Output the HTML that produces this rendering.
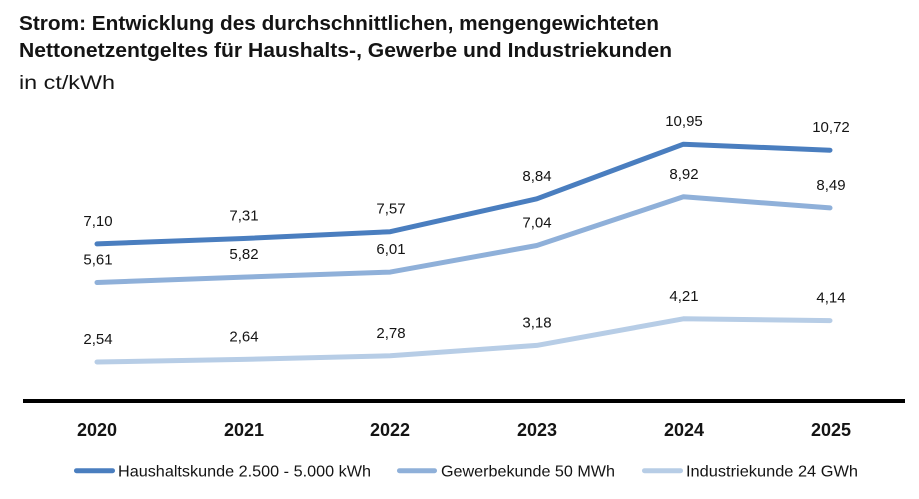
<!DOCTYPE html>
<html>
<head>
<meta charset="utf-8">
<style>
  html,body{margin:0;padding:0;background:#fff;}
  svg{display:block;}
  text{font-family:"Liberation Sans", sans-serif;fill:#141414;}
</style>
</head>
<body>
<svg width="919" height="499" viewBox="0 0 919 499" xmlns="http://www.w3.org/2000/svg">
  <!-- Title -->
  <text x="19" y="30" font-size="20" font-weight="bold" textLength="640" lengthAdjust="spacingAndGlyphs">Strom: Entwicklung des durchschnittlichen, mengengewichteten</text>
  <text x="19" y="57" font-size="20" font-weight="bold" textLength="653" lengthAdjust="spacingAndGlyphs">Nettonetzentgeltes für Haushalts-, Gewerbe und Industriekunden</text>
  <text x="19" y="89" font-size="19" textLength="96" lengthAdjust="spacingAndGlyphs">in ct/kWh</text>

  <!-- Series lines -->
  <polyline fill="none" stroke="#b7cde6" stroke-width="5" stroke-linecap="round" stroke-linejoin="round"
    points="97,362.0 243.6,359.4 390.2,355.8 536.8,345.4 683.4,318.8 830,320.6"/>
  <polyline fill="none" stroke="#8fb0d9" stroke-width="5" stroke-linecap="round" stroke-linejoin="round"
    points="97,282.5 243.6,277.1 390.2,272.1 536.8,245.5 683.4,196.8 830,207.9"/>
  <polyline fill="none" stroke="#4a7ebf" stroke-width="5" stroke-linecap="round" stroke-linejoin="round"
    points="97,243.9 243.6,238.5 390.2,231.7 536.8,198.8 683.4,144.2 830,150.2"/>

  <!-- Data labels -->
  <g font-size="15" text-anchor="middle">
    <text x="98" y="226">7,10</text>
    <text x="244" y="220.5">7,31</text>
    <text x="391" y="213.7">7,57</text>
    <text x="537" y="180.8">8,84</text>
    <text x="684" y="126.2">10,95</text>
    <text x="831" y="132.2">10,72</text>

    <text x="98" y="264.5">5,61</text>
    <text x="244" y="259.1">5,82</text>
    <text x="391" y="254.1">6,01</text>
    <text x="537" y="227.5">7,04</text>
    <text x="684" y="178.8">8,92</text>
    <text x="831" y="189.9">8,49</text>

    <text x="98" y="344">2,54</text>
    <text x="244" y="341.4">2,64</text>
    <text x="391" y="337.8">2,78</text>
    <text x="537" y="327.4">3,18</text>
    <text x="684" y="300.8">4,21</text>
    <text x="831" y="302.6">4,14</text>
  </g>

  <!-- Axis -->
  <rect x="23" y="399" width="882" height="4" fill="#000"/>

  <!-- Year labels -->
  <g font-size="18" font-weight="bold" text-anchor="middle">
    <text x="97" y="436">2020</text>
    <text x="244" y="436">2021</text>
    <text x="390" y="436">2022</text>
    <text x="537" y="436">2023</text>
    <text x="684" y="436">2024</text>
    <text x="831" y="436">2025</text>
  </g>

  <!-- Legend -->
  <line x1="76.5" y1="470.7" x2="112.5" y2="470.7" stroke="#4a7ebf" stroke-width="5" stroke-linecap="round"/>
  <text x="118" y="476.5" font-size="16" textLength="253" lengthAdjust="spacingAndGlyphs">Haushaltskunde 2.500 - 5.000 kWh</text>
  <line x1="399.5" y1="470.7" x2="434.5" y2="470.7" stroke="#8fb0d9" stroke-width="5" stroke-linecap="round"/>
  <text x="441" y="476.5" font-size="16" textLength="174" lengthAdjust="spacingAndGlyphs">Gewerbekunde 50 MWh</text>
  <line x1="644.5" y1="470.7" x2="680.5" y2="470.7" stroke="#b7cde6" stroke-width="5" stroke-linecap="round"/>
  <text x="686" y="476.5" font-size="16" textLength="172" lengthAdjust="spacingAndGlyphs">Industriekunde 24 GWh</text>
</svg>
</body>
</html>
